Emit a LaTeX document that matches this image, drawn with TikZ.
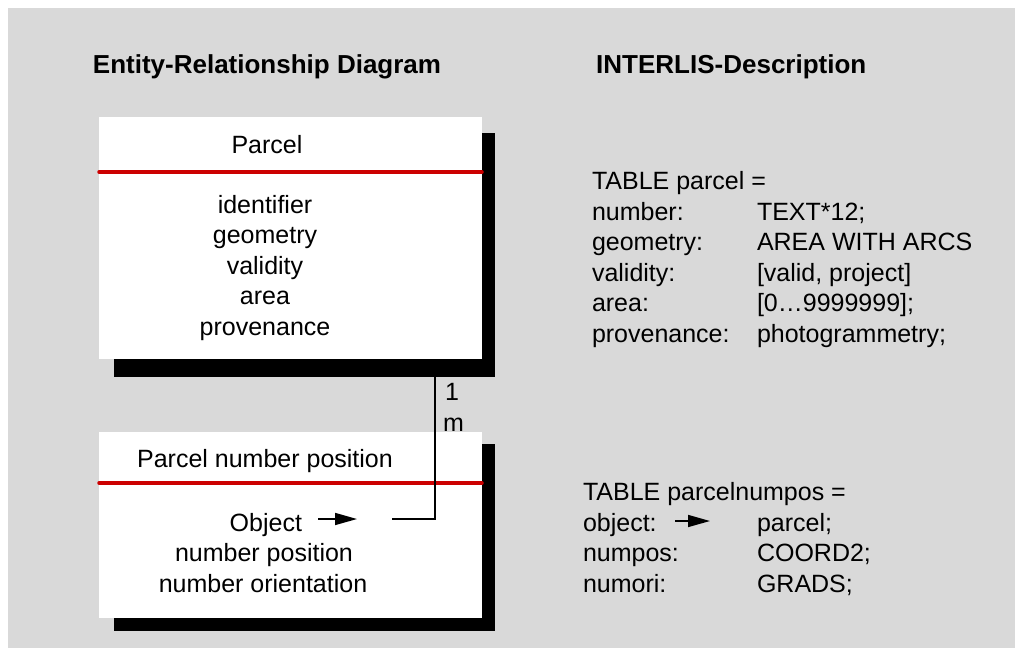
\documentclass[tikz,border=0pt]{standalone}
\usepackage{fontspec}
\setmainfont{Liberation Sans}
\usetikzlibrary{arrows.meta,calc}
\definecolor{bggray}{HTML}{D9D9D9}
\definecolor{linered}{HTML}{CC0000}
\begin{document}
\begin{tikzpicture}[x=1pt,y=-1pt,
  txt/.style={font=\fontsize{25}{30.5}\selectfont, inner sep=0pt, outer sep=0pt},
  ttl/.style={font=\fontsize{26}{30}\selectfont\bfseries, inner sep=0pt},
  whitebox/.style={fill=white, draw=none, inner sep=0pt, outer sep=0pt, anchor=north west},
  shadowbox/.style={fill=black, draw=none, inner sep=0pt, outer sep=0pt, anchor=north west},
  redline/.style={draw=linered, line width=3.5pt, line cap=round},
  conn/.style={draw=black, line width=1.4pt},
  glypharrow/.style={draw=black, line width=1.6pt, -{Triangle[length=22pt,width=12pt]}}
]
\useasboundingbox (0,0) rectangle (1015,648);
\fill[bggray] (8,8) rectangle (1015,648);

% titles
\node[ttl, anchor=base] (t1) at (267,73) {Entity-Relationship Diagram};
\node[ttl, anchor=base west] (t2) at (596,73) {INTERLIS-Description};

% box 1
\node[shadowbox, minimum width=381pt, minimum height=244pt] (sh1) at (114,133) {};
\node[whitebox, minimum width=383pt, minimum height=242pt] (b1) at (99,117) {};
\draw[redline] ([yshift=-55pt]b1.north west) -- ([yshift=-55pt]b1.north east);
\node[txt, anchor=base] (b1t) at (267,153) {Parcel};
\node[txt, anchor=base] (a1) at (265,213) {identifier};
\node[txt, anchor=base] (a2) at (265,243.5) {geometry};
\node[txt, anchor=base] (a3) at (265,274) {validity};
\node[txt, anchor=base] (a4) at (265,304.5) {area};
\node[txt, anchor=base] (a5) at (265,335) {provenance};

% box 2
\node[shadowbox, minimum width=381pt, minimum height=187pt] (sh2) at (114,444) {};
\node[whitebox, minimum width=383pt, minimum height=186pt] (b2) at (99,432) {};
\draw[redline] ([yshift=-51pt]b2.north west) -- ([yshift=-51pt]b2.north east);
\node[txt, anchor=base] (b2t) at (265,467) {Parcel number position};
\node[txt, anchor=base east] (o1) at (302,531) {Object};
\node[txt, anchor=base] (o2) at (264,561.5) {number position};
\node[txt, anchor=base] (o3) at (263,592) {number orientation};

% arrow glyph in box 2
\coordinate (ga1) at (318,519);
\coordinate (ga2) at (357,519);
\draw[glypharrow] (ga1) -- (ga2);

% connector
\coordinate (cx) at (435,519);
\coordinate (cend) at (392,519);
\draw[conn] (sh1.south -| cx) -- (cx) -- (cend);
\node[txt, anchor=base west] (one) at (445,400) {1};
\node[txt, anchor=base west] (mm) at (443,431) {m};

% INTERLIS block 1
\node[txt, anchor=base west] (r0) at (592,189) {TABLE parcel =};
\node[txt, anchor=base west] (r1) at (592,220) {number:};
\node[txt, anchor=base west] (r2) at (592,250.5) {geometry:};
\node[txt, anchor=base west] (r3) at (592,281) {validity:};
\node[txt, anchor=base west] (r4) at (592,311.5) {area:};
\node[txt, anchor=base west] (r5) at (592,342) {provenance:};
\node[txt, anchor=base west] (v1) at (757,220) {TEXT*12;};
\node[txt, anchor=base west] (v2) at (757,250.5) {AREA WITH ARCS};
\node[txt, anchor=base west] (v3) at (757,281) {[valid, project]};
\node[txt, anchor=base west] (v4) at (757,311.5) {[0…9999999];};
\node[txt, anchor=base west] (v5) at (757,342) {photogrammetry;};

% INTERLIS block 2
\node[txt, anchor=base west] (s0) at (583,500) {TABLE parcelnumpos =};
\node[txt, anchor=base west] (s1) at (583,531) {object:};
\node[txt, anchor=base west] (s2) at (583,561.5) {numpos:};
\node[txt, anchor=base west] (s3) at (583,592) {numori:};
\node[txt, anchor=base west] (w1) at (757,531) {parcel;};
\node[txt, anchor=base west] (w2) at (757,561.5) {COORD2;};
\node[txt, anchor=base west] (w3) at (757,592) {GRADS;};
\coordinate (gb1) at (675,521);
\coordinate (gb2) at (710,521);
\draw[glypharrow] (gb1) -- (gb2);
\end{tikzpicture}
\end{document}
